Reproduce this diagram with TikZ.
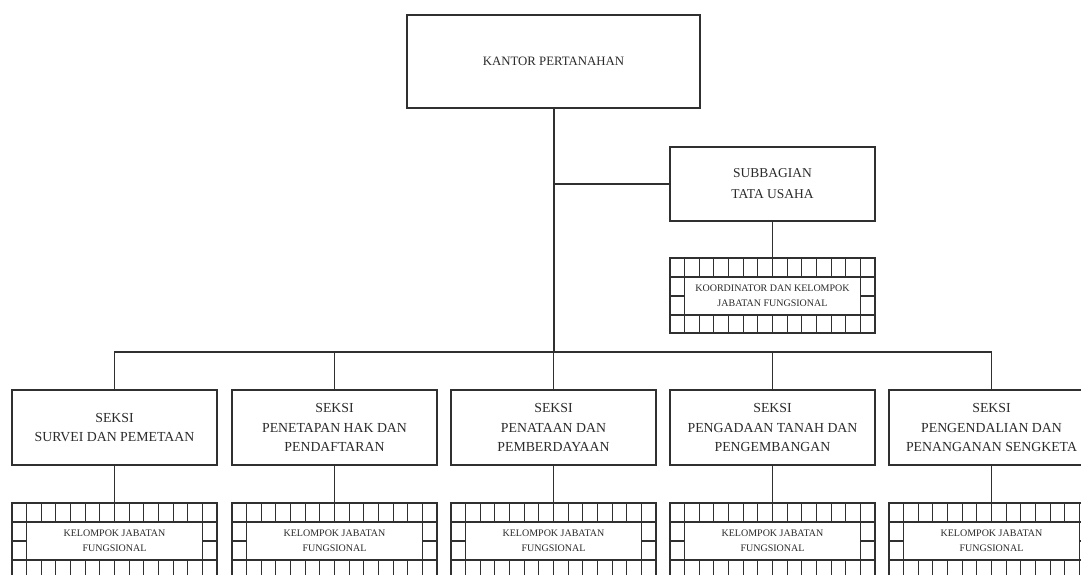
\documentclass[tikz,border=0pt]{standalone}
\usepackage{fontspec}
\setmainfont{Liberation Serif}
\definecolor{ln}{HTML}{303030}
\definecolor{tx}{HTML}{2A2A2A}
\tikzset{
  box/.style={draw=ln, line width=1.3pt, minimum width=205pt, minimum height=75pt,
    inner sep=0pt, align=center, text=tx, font=\fontsize{13.8}{19.5}\selectfont},
  gbox/.style={box, font=\fontsize{10}{15}\selectfont},
  conn/.style={draw=ln, line width=1.1pt},
  trunk/.style={draw=ln, line width=2pt},
  cell/.style={draw=ln, line width=1.1pt},
}
% grid box: centre x, top y, name, text
\newcommand\fgbox[4]{%
  \node[gbox] (#3) at (#1,#2+37.5) {#4};
  \draw[cell] (#1-87.86,#2+19) rectangle (#1+87.86,#2+57);
  \draw[cell] (#1-102.5,#2+19) -- (#1+102.5,#2+19);
  \draw[cell] (#1-102.5,#2+57) -- (#1+102.5,#2+57);
  \foreach \k in {1,...,13} {
    \draw[cell] ({#1-102.5+\k*14.643},#2) -- ++(0,19);
    \draw[cell] ({#1-102.5+\k*14.643},#2+57) -- ++(0,18);
  }
  \draw[cell] (#1-102.5,#2+38) -- ++(14.643,0);
  \draw[cell] (#1+102.5,#2+38) -- ++(-14.643,0);
}
\begin{document}
\begin{tikzpicture}[x=1pt,y=-1pt]
\useasboundingbox (0,0) rectangle (1081,574);
\fill[white] (0,0) rectangle (1081,574);
\clip (0,0) rectangle (1081,574);

\node[box, minimum width=293pt, minimum height=93pt, font=\fontsize{12.8}{16}\selectfont] (kantor) at (553.5,61.5) {KANTOR PERTANAHAN};
\node[box, minimum height=74pt, font=\fontsize{13.5}{21}\selectfont] (sub) at (772.5,184) {SUBBAGIAN\\TATA USAHA};
\fgbox{772.5}{258}{koor}{KOORDINATOR DAN KELOMPOK\\JABATAN FUNGSIONAL}

\node[box] (s1) at (114.5,427.5) {SEKSI\\SURVEI DAN PEMETAAN};
\node[box] (s2) at (334.5,427.5) {SEKSI\\PENETAPAN HAK DAN\\PENDAFTARAN};
\node[box] (s3) at (553.5,427.5) {SEKSI\\PENATAAN DAN\\PEMBERDAYAAN};
\node[box] (s4) at (772.5,427.5) {SEKSI\\PENGADAAN TANAH DAN\\PENGEMBANGAN};
\node[box] (s5) at (991.5,427.5) {SEKSI\\PENGENDALIAN DAN\\PENANGANAN SENGKETA};

\fgbox{114.5}{503}{k1}{KELOMPOK JABATAN\\FUNGSIONAL}
\fgbox{334.5}{503}{k2}{KELOMPOK JABATAN\\FUNGSIONAL}
\fgbox{553.5}{503}{k3}{KELOMPOK JABATAN\\FUNGSIONAL}
\fgbox{772.5}{503}{k4}{KELOMPOK JABATAN\\FUNGSIONAL}
\fgbox{991.5}{503}{k5}{KELOMPOK JABATAN\\FUNGSIONAL}

\coordinate (j) at (553.5,352);
\draw[trunk] (kantor.south) -- (j);
\draw[conn] (kantor.south |- sub.west) -- (sub.west);
\draw[conn] (sub.south) -- (koor.north);
\draw[conn] (s1.north) |- (s2.north |- j);
\draw[conn] (s5.north) |- (s4.north |- j);
\draw[trunk] (s2.north |- j) -- (s4.north |- j);
\draw[conn] (s2.north |- j) -- (s2.north);
\draw[conn] (j) -- (s3.north);
\draw[conn] (s4.north |- j) -- (s4.north);
\foreach \i in {1,...,5} { \draw[conn] (s\i.south) -- (k\i.north); }
\end{tikzpicture}
\end{document}
